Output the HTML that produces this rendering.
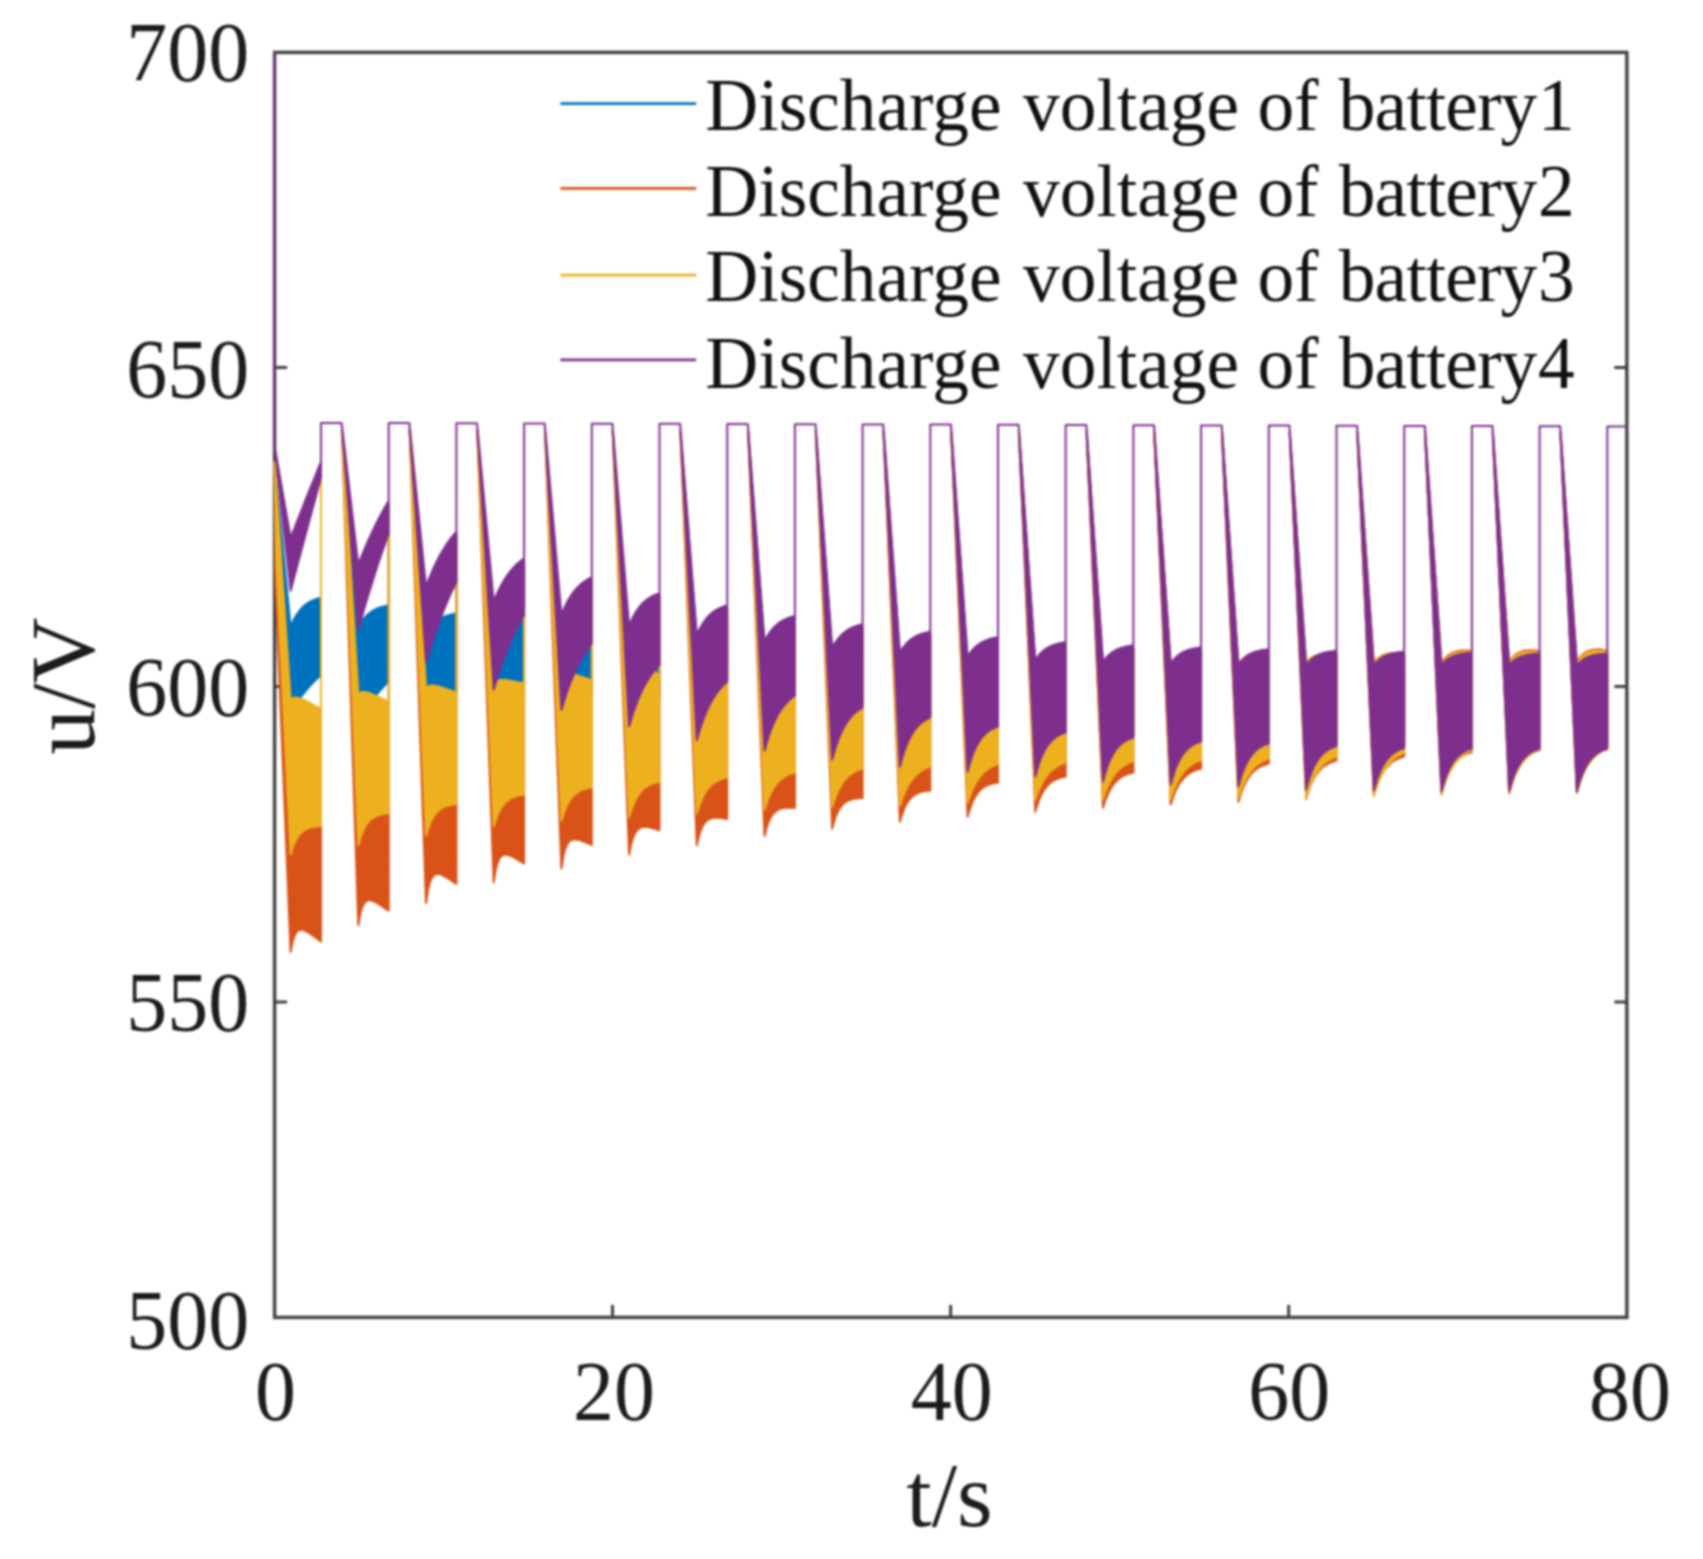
<!DOCTYPE html>
<html lang="en">
<head>
<meta charset="utf-8">
<title>Discharge voltage of batteries</title>
<style>
html,body{margin:0;padding:0;background:#fff;}
body{width:1703px;height:1559px;overflow:hidden;}
svg{display:block;filter:blur(0.8px);}
svg text{font-family:"Liberation Serif","Times New Roman",serif;}
</style>
</head>
<body>
<svg width="1703" height="1559" viewBox="0 0 1703 1559">
<rect width="1703" height="1559" fill="#fff"/>
<g fill="none" stroke="#404040" stroke-width="3.4" stroke-linecap="butt">
<rect x="274.60" y="52.40" width="1352.25" height="1265.00"/>
<path d="M274.60 367.50h12.5M1626.85 367.50h-12.5" stroke-width="3"/>
<path d="M274.60 686.40h12.5M1626.85 686.40h-12.5" stroke-width="3"/>
<path d="M274.60 1001.90h12.5M1626.85 1001.90h-12.5" stroke-width="3"/>
<path d="M612.50 1317.40v-12.5" stroke-width="3"/>
<path d="M950.60 1317.40v-12.5" stroke-width="3"/>
<path d="M1288.70 1317.40v-12.5" stroke-width="3"/>
</g>
<g stroke-width="2.0" stroke-linejoin="round">
<path d="M274.6 462.0L290.6 627.0L292.5 622.5L294.4 618.6L296.3 615.3L298.2 612.5L300.1 610.0L302.0 607.9L303.9 606.1L305.8 604.5L307.7 603.1L309.6 602.0L311.5 601.0L313.4 600.1L315.3 599.4L317.2 598.7L319.1 598.2L321.0 597.7L321.0 464.8L321.0 597.7L321.0 675.0L319.1 676.7L317.2 678.5L315.3 680.4L313.4 682.3L311.5 684.3L309.6 686.4L307.7 688.5L305.8 690.7L303.9 693.1L302.0 695.5L300.1 698.0L298.2 700.6L296.3 703.3L294.4 706.1L292.5 709.0L290.6 712.0L276.6 545.0ZM341.9 429.9L358.3 627.0L360.2 623.7L362.1 620.8L364.0 618.4L365.9 616.3L367.8 614.5L369.7 612.9L371.6 611.6L373.5 610.4L375.4 609.4L377.3 608.5L379.2 607.8L381.1 607.2L383.0 606.6L384.9 606.2L386.8 605.7L388.7 605.4L388.7 503.9L388.7 605.4L388.7 681.6L386.8 683.4L384.9 685.3L383.0 687.3L381.1 689.4L379.2 691.5L377.3 693.7L375.4 696.0L373.5 698.4L371.6 700.8L369.7 703.4L367.8 706.1L365.9 708.8L364.0 711.7L362.1 714.7L360.2 717.8L358.3 721.0ZM409.6 430.1L426.0 633.0L427.9 630.0L429.8 627.4L431.7 625.2L433.6 623.3L435.5 621.7L437.4 620.3L439.3 619.1L441.2 618.0L443.1 617.1L445.0 616.3L446.9 615.7L448.8 615.1L450.7 614.6L452.6 614.2L454.5 613.8L456.4 613.5L456.4 534.6L456.4 613.5L456.4 695.0L454.5 696.4L452.6 697.8L450.7 699.3L448.8 700.9L446.9 702.5L445.0 704.2L443.1 706.0L441.2 707.8L439.3 709.6L437.4 711.6L435.5 713.6L433.6 715.7L431.7 717.9L429.8 720.2L427.9 722.6L426.0 725.0ZM477.2 430.3L493.7 639.0L495.6 635.6L497.5 632.7L499.4 630.2L501.3 628.1L503.2 626.2L505.1 624.6L507.0 623.3L508.9 622.1L510.8 621.1L512.7 620.2L514.6 619.5L516.5 618.8L518.4 618.2L520.3 617.8L522.2 617.4L524.1 617.0L524.1 561.3L524.1 617.0L524.1 699.0L522.2 700.3L520.3 701.7L518.4 703.1L516.5 704.5L514.6 706.0L512.7 707.6L510.8 709.2L508.9 710.9L507.0 712.7L505.1 714.5L503.2 716.4L501.3 718.4L499.4 720.4L497.5 722.5L495.6 724.7L493.7 727.0ZM545.0 430.5L561.4 645.0L563.3 641.6L565.2 638.7L567.1 636.2L569.0 634.1L570.9 632.2L572.8 630.6L574.7 629.3L576.6 628.1L578.5 627.1L580.4 626.2L582.3 625.5L584.2 624.8L586.1 624.2L588.0 623.8L589.9 623.4L591.8 623.0L591.8 580.2L591.8 623.0L591.8 699.0L589.9 700.3L588.0 701.7L586.1 703.1L584.2 704.5L582.3 706.0L580.4 707.6L578.5 709.2L576.6 710.9L574.7 712.7L572.8 714.5L570.9 716.4L569.0 718.4L567.1 720.4L565.2 722.5L563.3 724.7L561.4 727.0ZM612.7 430.7L629.1 651.0L631.0 647.9L632.9 645.3L634.8 643.0L636.7 641.1L638.6 639.4L640.5 637.9L642.4 636.7L644.3 635.6L646.2 634.7L648.1 633.9L650.0 633.2L651.9 632.6L653.8 632.1L655.7 631.7L657.6 631.3L659.5 631.0L659.5 596.3L659.5 631.0L659.5 699.0L657.6 700.3L655.7 701.7L653.8 703.1L651.9 704.5L650.0 706.0L648.1 707.6L646.2 709.2L644.3 710.9L642.4 712.7L640.5 714.5L638.6 716.4L636.7 718.4L634.8 720.4L632.9 722.5L631.0 724.7L629.1 727.0ZM680.4 430.8L696.8 638.2L698.7 633.9L700.6 630.1L702.5 626.9L704.4 624.0L706.3 621.5L708.2 619.4L710.1 617.5L712.0 615.8L713.9 614.4L715.8 613.2L717.7 612.1L719.6 611.1L721.5 610.3L723.4 609.6L725.3 608.9L727.2 608.4L727.2 608.4L727.2 608.4L727.2 678.8L725.3 680.4L723.4 682.2L721.5 684.2L719.6 686.4L717.7 688.7L715.8 691.4L713.9 694.2L712.0 697.4L710.1 700.9L708.2 704.7L706.3 708.9L704.4 713.6L702.5 718.7L700.6 724.3L698.7 730.4L696.8 737.2ZM748.1 431.0L764.5 644.4L766.4 640.7L768.3 637.5L770.2 634.7L772.1 632.3L774.0 630.2L775.9 628.4L777.8 626.7L779.7 625.3L781.6 624.1L783.5 623.1L785.4 622.1L787.3 621.3L789.2 620.6L791.1 620.0L793.0 619.5L794.9 619.0L794.9 619.0L794.9 619.0L794.9 692.6L793.0 693.9L791.1 695.4L789.2 697.1L787.3 698.9L785.4 701.0L783.5 703.3L781.6 705.9L779.7 708.7L777.8 711.9L775.9 715.5L774.0 719.5L772.1 724.0L770.2 729.0L768.3 734.6L766.4 740.8L764.5 747.8ZM815.8 431.2L832.2 651.0L834.1 647.6L836.0 644.6L837.9 642.0L839.8 639.7L841.7 637.7L843.6 636.0L845.5 634.5L847.4 633.1L849.3 632.0L851.2 631.0L853.1 630.1L855.0 629.4L856.9 628.7L858.8 628.1L860.7 627.6L862.6 627.2L862.6 627.2L862.6 627.2L862.6 704.6L860.7 705.7L858.8 706.9L856.9 708.3L855.0 709.8L853.1 711.6L851.2 713.6L849.3 715.9L847.4 718.5L845.5 721.5L843.6 724.8L841.7 728.6L839.8 732.9L837.9 737.8L836.0 743.3L834.1 749.6L832.2 756.7ZM883.5 431.4L899.9 655.6L901.8 652.5L903.7 649.8L905.6 647.4L907.5 645.4L909.4 643.6L911.3 642.1L913.2 640.8L915.1 639.7L917.0 638.7L918.9 637.8L920.8 637.1L922.7 636.4L924.6 635.9L926.5 635.4L928.4 635.0L930.3 634.6L930.3 634.6L930.3 634.6L930.3 714.5L928.4 715.4L926.5 716.4L924.6 717.5L922.7 718.8L920.8 720.4L918.9 722.1L917.0 724.1L915.1 726.5L913.2 729.2L911.3 732.3L909.4 735.8L907.5 739.9L905.6 744.7L903.7 750.1L901.8 756.4L899.9 763.7ZM951.2 431.6L967.6 659.9L969.5 656.9L971.4 654.3L973.3 652.0L975.2 650.1L977.1 648.5L979.0 647.0L980.9 645.8L982.8 644.8L984.7 643.9L986.6 643.1L988.5 642.4L990.4 641.8L992.3 641.3L994.2 640.9L996.1 640.5L998.0 640.2L998.0 640.2L998.0 640.2L998.0 723.5L996.1 724.2L994.2 725.0L992.3 725.9L990.4 727.0L988.5 728.2L986.6 729.7L984.7 731.5L982.8 733.5L980.9 735.9L979.0 738.7L977.1 741.9L975.2 745.7L973.3 750.2L971.4 755.4L969.5 761.5L967.6 768.7ZM1018.9 431.8L1035.3 663.3L1037.2 660.4L1039.1 658.0L1041.0 655.9L1042.9 654.1L1044.8 652.6L1046.7 651.3L1048.6 650.2L1050.5 649.2L1052.4 648.4L1054.3 647.7L1056.2 647.1L1058.1 646.6L1060.0 646.2L1061.9 645.8L1063.8 645.5L1065.7 645.2L1065.7 645.2L1065.7 645.2L1065.7 729.5L1063.8 730.1L1061.9 730.9L1060.0 731.7L1058.1 732.7L1056.2 733.9L1054.3 735.3L1052.4 737.0L1050.5 738.9L1048.6 741.2L1046.7 743.9L1044.8 747.1L1042.9 750.8L1041.0 755.2L1039.1 760.4L1037.2 766.5L1035.3 773.6ZM1086.6 432.0L1103.0 665.1L1104.9 662.4L1106.8 660.1L1108.7 658.1L1110.6 656.5L1112.5 655.1L1114.4 653.9L1116.3 652.8L1118.2 652.0L1120.1 651.2L1122.0 650.6L1123.9 650.1L1125.8 649.6L1127.7 649.2L1129.6 648.9L1131.5 648.6L1133.4 648.4L1133.4 648.4L1133.4 648.4L1133.4 734.5L1131.5 735.1L1129.6 735.9L1127.7 736.7L1125.8 737.7L1123.9 738.9L1122.0 740.3L1120.1 742.0L1118.2 743.9L1116.3 746.2L1114.4 748.9L1112.5 752.1L1110.6 755.8L1108.7 760.2L1106.8 765.4L1104.9 771.5L1103.0 778.6ZM1154.2 432.2L1170.7 666.8L1172.6 664.1L1174.5 661.8L1176.4 659.8L1178.3 658.2L1180.2 656.8L1182.1 655.6L1184.0 654.6L1185.9 653.8L1187.8 653.1L1189.7 652.5L1191.6 652.0L1193.5 651.5L1195.4 651.2L1197.3 650.9L1199.2 650.6L1201.1 650.4L1201.1 650.4L1201.1 650.4L1201.1 738.5L1199.2 739.1L1197.3 739.8L1195.4 740.7L1193.5 741.7L1191.6 742.8L1189.7 744.2L1187.8 745.8L1185.9 747.7L1184.0 750.0L1182.1 752.6L1180.2 755.7L1178.3 759.3L1176.4 763.6L1174.5 768.7L1172.6 774.6L1170.7 781.6ZM1222.0 432.4L1238.4 667.7L1240.3 665.1L1242.2 662.9L1244.1 661.0L1246.0 659.4L1247.9 658.1L1249.8 657.0L1251.7 656.1L1253.6 655.3L1255.5 654.7L1257.4 654.2L1259.3 653.7L1261.2 653.3L1263.1 653.0L1265.0 652.7L1266.9 652.5L1268.8 652.3L1268.8 652.3L1268.8 652.3L1268.8 740.5L1266.9 741.1L1265.0 741.8L1263.1 742.7L1261.2 743.7L1259.3 744.8L1257.4 746.2L1255.5 747.8L1253.6 749.7L1251.7 752.0L1249.8 754.6L1247.9 757.7L1246.0 761.3L1244.1 765.6L1242.2 770.7L1240.3 776.6L1238.4 783.6ZM1289.7 432.6L1306.1 668.3L1308.0 665.8L1309.9 663.6L1311.8 661.9L1313.7 660.4L1315.6 659.2L1317.5 658.1L1319.4 657.3L1321.3 656.6L1323.2 656.0L1325.1 655.5L1327.0 655.0L1328.9 654.7L1330.8 654.4L1332.7 654.2L1334.6 654.0L1336.5 653.8L1336.5 653.8L1336.5 653.8L1336.5 743.1L1334.6 743.7L1332.7 744.4L1330.8 745.3L1328.9 746.3L1327.0 747.5L1325.1 748.9L1323.2 750.5L1321.3 752.4L1319.4 754.7L1317.5 757.3L1315.6 760.5L1313.7 764.1L1311.8 768.5L1309.9 773.6L1308.0 779.6L1306.1 786.6ZM1357.3 432.8L1373.8 668.3L1375.7 665.9L1377.6 663.9L1379.5 662.2L1381.4 660.8L1383.3 659.7L1385.2 658.7L1387.1 657.9L1389.0 657.3L1390.9 656.7L1392.8 656.3L1394.7 655.9L1396.6 655.6L1398.5 655.3L1400.4 655.1L1402.3 654.9L1404.2 654.8L1404.2 654.8L1404.2 654.8L1404.2 745.1L1402.3 745.7L1400.4 746.4L1398.5 747.2L1396.6 748.2L1394.7 749.4L1392.8 750.7L1390.9 752.3L1389.0 754.2L1387.1 756.4L1385.2 759.0L1383.3 762.1L1381.4 765.7L1379.5 769.9L1377.6 774.9L1375.7 780.7L1373.8 787.6ZM1425.1 432.9L1441.5 668.3L1443.4 666.0L1445.3 664.1L1447.2 662.5L1449.1 661.2L1451.0 660.2L1452.9 659.3L1454.8 658.6L1456.7 658.0L1458.6 657.5L1460.5 657.1L1462.4 656.8L1464.3 656.5L1466.2 656.3L1468.1 656.1L1470.0 655.9L1471.9 655.8L1471.9 655.8L1471.9 655.8L1471.9 745.6L1470.0 746.2L1468.1 746.9L1466.2 747.7L1464.3 748.7L1462.4 749.9L1460.5 751.2L1458.6 752.8L1456.7 754.7L1454.8 756.9L1452.9 759.5L1451.0 762.6L1449.1 766.2L1447.2 770.4L1445.3 775.4L1443.4 781.2L1441.5 788.1ZM1492.8 433.1L1509.2 668.3L1511.1 666.1L1513.0 664.3L1514.9 662.8L1516.8 661.6L1518.7 660.6L1520.6 659.8L1522.5 659.1L1524.4 658.6L1526.3 658.1L1528.2 657.8L1530.1 657.5L1532.0 657.2L1533.9 657.0L1535.8 656.8L1537.7 656.7L1539.6 656.6L1539.6 656.6L1539.6 656.6L1539.6 745.6L1537.7 746.2L1535.8 746.9L1533.9 747.8L1532.0 748.7L1530.1 749.9L1528.2 751.3L1526.3 752.9L1524.4 754.7L1522.5 757.0L1520.6 759.6L1518.7 762.6L1516.8 766.3L1514.9 770.5L1513.0 775.5L1511.1 781.4L1509.2 788.3ZM1560.5 433.3L1576.9 668.6L1578.8 666.3L1580.7 664.5L1582.6 663.0L1584.5 661.7L1586.4 660.7L1588.3 659.9L1590.2 659.2L1592.1 658.6L1594.0 658.2L1595.9 657.8L1597.8 657.5L1599.7 657.2L1601.6 657.0L1603.5 656.9L1605.4 656.7L1607.3 656.6L1607.3 656.6L1607.3 656.6L1607.3 745.6L1605.4 746.2L1603.5 746.9L1601.6 747.8L1599.7 748.8L1597.8 749.9L1595.9 751.3L1594.0 752.9L1592.1 754.8L1590.2 757.0L1588.3 759.7L1586.4 762.8L1584.5 766.4L1582.6 770.7L1580.7 775.7L1578.8 781.6L1576.9 788.6Z" fill="#0072bd" stroke="#0072bd"/>
<path d="M274.6 462.0L290.6 702.0L292.5 700.4L294.4 699.7L296.3 699.6L298.2 699.9L300.1 700.4L302.0 701.1L303.9 702.0L305.8 702.9L307.7 703.8L309.6 704.8L311.5 705.8L313.4 706.9L315.3 707.9L317.2 708.9L319.1 710.0L321.0 711.0L321.0 464.8L321.0 711.0L321.0 941.5L319.1 940.1L317.2 938.7L315.3 937.3L313.4 935.9L311.5 934.6L309.6 933.4L307.7 932.2L305.8 931.2L303.9 930.3L302.0 929.8L300.1 929.8L298.2 930.5L296.3 932.4L294.4 935.9L292.5 942.0L290.6 952.0L275.5 585.0ZM341.9 429.9L358.3 695.8L360.2 694.6L362.1 694.0L364.0 694.0L365.9 694.2L367.8 694.7L369.7 695.3L371.6 696.0L373.5 696.8L375.4 697.6L377.3 698.4L379.2 699.2L381.1 700.1L383.0 700.9L384.9 701.8L386.8 702.6L388.7 703.5L388.7 503.9L388.7 703.5L388.7 910.7L386.8 909.4L384.9 908.1L383.0 906.8L381.1 905.5L379.2 904.3L377.3 903.1L375.4 902.1L373.5 901.2L371.6 900.5L369.7 900.2L367.8 900.3L365.9 901.3L364.0 903.5L362.1 907.4L360.2 914.1L358.3 925.0ZM409.6 430.1L426.0 690.5L427.9 688.8L429.8 687.9L431.7 687.6L433.6 687.6L435.5 687.9L437.4 688.3L439.3 688.8L441.2 689.3L443.1 690.0L445.0 690.6L446.9 691.3L448.8 691.9L450.7 692.6L452.6 693.3L454.5 694.0L456.4 694.7L456.4 534.6L456.4 694.7L456.4 884.0L454.5 882.7L452.6 881.4L450.7 880.1L448.8 878.8L446.9 877.6L445.0 876.5L443.1 875.5L441.2 874.6L439.3 874.0L437.4 873.8L435.5 874.2L433.6 875.5L431.7 878.1L429.8 882.8L427.9 890.5L426.0 903.0ZM477.2 430.3L493.7 685.5L495.6 683.8L497.5 682.8L499.4 682.2L501.3 682.0L503.2 682.0L505.1 682.1L507.0 682.3L508.9 682.6L510.8 682.9L512.7 683.3L514.6 683.6L516.5 684.0L518.4 684.4L520.3 684.7L522.2 685.1L524.1 685.5L524.1 561.3L524.1 685.5L524.1 863.6L522.2 862.4L520.3 861.2L518.4 860.1L516.5 858.9L514.6 857.8L512.7 856.8L510.8 855.9L508.9 855.2L507.0 854.7L505.1 854.5L503.2 854.9L501.3 856.2L499.4 858.7L497.5 863.2L495.6 870.6L493.7 882.4ZM545.0 430.5L561.4 679.0L563.3 677.1L565.2 676.2L567.1 675.7L569.0 675.7L570.9 675.9L572.8 676.2L574.7 676.7L576.6 677.2L578.5 677.8L580.4 678.4L582.3 679.0L584.2 679.7L586.1 680.3L588.0 681.0L589.9 681.6L591.8 682.3L591.8 580.2L591.8 682.3L591.8 845.1L589.9 844.2L588.0 843.4L586.1 842.6L584.2 841.8L582.3 841.1L580.4 840.4L578.5 839.8L576.6 839.4L574.7 839.2L572.8 839.4L570.9 840.1L569.0 841.6L567.1 844.4L565.2 849.1L563.3 856.6L561.4 868.5ZM612.7 430.7L629.1 675.0L631.0 672.5L632.9 670.7L634.8 669.3L636.7 668.4L638.6 667.9L640.5 667.7L642.4 667.9L644.3 668.3L646.2 668.9L648.1 669.7L650.0 670.7L651.9 671.9L653.8 673.2L655.7 674.6L657.6 676.1L659.5 677.7L659.5 596.3L659.5 677.7L659.5 830.2L657.6 829.6L655.7 829.0L653.8 828.5L651.9 827.9L650.0 827.5L648.1 827.1L646.2 826.9L644.3 826.9L642.4 827.1L640.5 827.6L638.6 828.8L636.7 830.6L634.8 833.6L632.9 838.1L631.0 844.8L629.1 854.7ZM680.4 430.8L696.8 672.0L698.7 669.7L700.6 667.9L702.5 666.6L704.4 665.8L706.3 665.3L708.2 665.1L710.1 665.2L712.0 665.5L713.9 666.1L715.8 666.8L717.7 667.7L719.6 668.8L721.5 669.9L723.4 671.2L725.3 672.6L727.2 674.0L727.2 608.4L727.2 674.0L727.2 819.1L725.3 818.7L723.4 818.4L721.5 818.1L719.6 817.9L717.7 817.8L715.8 817.7L713.9 817.8L712.0 818.1L710.1 818.7L708.2 819.6L706.3 821.1L704.4 823.2L702.5 826.3L700.6 830.7L698.7 836.8L696.8 845.4ZM748.1 431.0L764.5 670.0L766.4 668.0L768.3 666.4L770.2 665.3L772.1 664.5L774.0 664.0L775.9 663.9L777.8 663.9L779.7 664.1L781.6 664.6L783.5 665.2L785.4 665.9L787.3 666.7L789.2 667.7L791.1 668.7L793.0 669.8L794.9 671.0L794.9 619.0L794.9 671.0L794.9 807.9L793.0 807.8L791.1 807.7L789.2 807.6L787.3 807.7L785.4 807.8L783.5 808.0L781.6 808.4L779.7 809.0L777.8 809.9L775.9 811.2L774.0 812.9L772.1 815.2L770.2 818.4L768.3 822.7L766.4 828.4L764.5 836.1ZM815.8 431.2L832.2 668.5L834.1 666.5L836.0 665.0L837.9 663.9L839.8 663.1L841.7 662.6L843.6 662.4L845.5 662.4L847.4 662.5L849.3 662.9L851.2 663.4L853.1 664.0L855.0 664.7L856.9 665.6L858.8 666.5L860.7 667.4L862.6 668.5L862.6 627.2L862.6 668.5L862.6 798.1L860.7 798.1L858.8 798.2L856.9 798.4L855.0 798.6L853.1 799.0L851.2 799.5L849.3 800.1L847.4 801.0L845.5 802.1L843.6 803.7L841.7 805.6L839.8 808.2L837.9 811.6L836.0 815.9L834.1 821.5L832.2 828.7ZM883.5 431.4L899.9 667.5L901.8 665.6L903.7 664.2L905.6 663.1L907.5 662.3L909.4 661.8L911.3 661.5L913.2 661.4L915.1 661.6L917.0 661.8L918.9 662.2L920.8 662.7L922.7 663.3L924.6 664.0L926.5 664.8L928.4 665.6L930.3 666.5L930.3 634.6L930.3 666.5L930.3 790.5L928.4 790.7L926.5 790.9L924.6 791.2L922.7 791.5L920.8 792.0L918.9 792.7L917.0 793.5L915.1 794.5L913.2 795.8L911.3 797.5L909.4 799.6L907.5 802.2L905.6 805.6L903.7 809.8L901.8 815.1L899.9 821.8ZM951.2 431.6L967.6 667.0L969.5 665.1L971.4 663.5L973.3 662.4L975.2 661.5L977.1 660.9L979.0 660.6L980.9 660.4L982.8 660.5L984.7 660.6L986.6 660.9L988.5 661.3L990.4 661.8L992.3 662.4L994.2 663.0L996.1 663.7L998.0 664.5L998.0 640.2L998.0 664.5L998.0 782.5L996.1 782.8L994.2 783.2L992.3 783.6L990.4 784.2L988.5 784.8L986.6 785.7L984.7 786.7L982.8 787.9L980.9 789.5L979.0 791.4L977.1 793.8L975.2 796.7L973.3 800.3L971.4 804.7L969.5 810.1L967.6 816.8ZM1018.9 431.8L1035.3 666.5L1037.2 664.6L1039.1 663.0L1041.0 661.9L1042.9 661.0L1044.8 660.4L1046.7 660.0L1048.6 659.8L1050.5 659.7L1052.4 659.8L1054.3 660.0L1056.2 660.4L1058.1 660.8L1060.0 661.2L1061.9 661.8L1063.8 662.4L1065.7 663.0L1065.7 645.2L1065.7 663.0L1065.7 776.5L1063.8 776.9L1061.9 777.3L1060.0 777.8L1058.1 778.5L1056.2 779.3L1054.3 780.2L1052.4 781.3L1050.5 782.7L1048.6 784.4L1046.7 786.5L1044.8 788.9L1042.9 791.9L1041.0 795.6L1039.1 800.0L1037.2 805.3L1035.3 811.8ZM1086.6 432.0L1103.0 666.0L1104.9 664.1L1106.8 662.5L1108.7 661.3L1110.6 660.4L1112.5 659.8L1114.4 659.3L1116.3 659.1L1118.2 659.0L1120.1 659.0L1122.0 659.1L1123.9 659.4L1125.8 659.7L1127.7 660.1L1129.6 660.5L1131.5 661.0L1133.4 661.5L1133.4 648.4L1133.4 661.5L1133.4 772.6L1131.5 773.0L1129.6 773.5L1127.7 774.1L1125.8 774.8L1123.9 775.7L1122.0 776.7L1120.1 777.9L1118.2 779.4L1116.3 781.2L1114.4 783.2L1112.5 785.7L1110.6 788.7L1108.7 792.3L1106.8 796.6L1104.9 801.7L1103.0 807.8ZM1154.2 432.2L1170.7 665.5L1172.6 663.5L1174.5 661.8L1176.4 660.6L1178.3 659.6L1180.2 658.9L1182.1 658.4L1184.0 658.1L1185.9 657.9L1187.8 657.9L1189.7 658.0L1191.6 658.2L1193.5 658.4L1195.4 658.7L1197.3 659.1L1199.2 659.5L1201.1 660.0L1201.1 650.4L1201.1 660.0L1201.1 768.6L1199.2 769.1L1197.3 769.6L1195.4 770.3L1193.5 771.1L1191.6 772.0L1189.7 773.1L1187.8 774.4L1185.9 776.0L1184.0 777.8L1182.1 780.0L1180.2 782.5L1178.3 785.6L1176.4 789.1L1174.5 793.4L1172.6 798.4L1170.7 804.4ZM1222.0 432.4L1238.4 665.0L1240.3 662.9L1242.2 661.3L1244.1 660.0L1246.0 659.0L1247.9 658.2L1249.8 657.7L1251.7 657.3L1253.6 657.1L1255.5 657.0L1257.4 657.0L1259.3 657.1L1261.2 657.3L1263.1 657.5L1265.0 657.8L1266.9 658.1L1268.8 658.5L1268.8 652.3L1268.8 658.5L1268.8 763.6L1266.9 764.1L1265.0 764.7L1263.1 765.4L1261.2 766.2L1259.3 767.2L1257.4 768.4L1255.5 769.8L1253.6 771.5L1251.7 773.4L1249.8 775.7L1247.9 778.5L1246.0 781.7L1244.1 785.5L1242.2 790.1L1240.3 795.4L1238.4 801.8ZM1289.7 432.6L1306.1 664.5L1308.0 662.4L1309.9 660.7L1311.8 659.4L1313.7 658.3L1315.6 657.5L1317.5 657.0L1319.4 656.5L1321.3 656.3L1323.2 656.1L1325.1 656.0L1327.0 656.1L1328.9 656.1L1330.8 656.3L1332.7 656.5L1334.6 656.7L1336.5 657.0L1336.5 653.8L1336.5 657.0L1336.5 760.6L1334.6 761.1L1332.7 761.7L1330.8 762.4L1328.9 763.3L1327.0 764.3L1325.1 765.4L1323.2 766.8L1321.3 768.5L1319.4 770.5L1317.5 772.8L1315.6 775.5L1313.7 778.8L1311.8 782.6L1309.9 787.2L1308.0 792.6L1306.1 799.0ZM1357.3 432.8L1373.8 664.0L1375.7 661.9L1377.6 660.2L1379.5 658.8L1381.4 657.8L1383.3 656.9L1385.2 656.3L1387.1 655.8L1389.0 655.5L1390.9 655.2L1392.8 655.1L1394.7 655.0L1396.6 655.0L1398.5 655.1L1400.4 655.2L1402.3 655.3L1404.2 655.5L1404.2 654.8L1404.2 655.5L1404.2 756.6L1402.3 757.1L1400.4 757.7L1398.5 758.5L1396.6 759.3L1394.7 760.3L1392.8 761.5L1390.9 763.0L1389.0 764.7L1387.1 766.7L1385.2 769.0L1383.3 771.8L1381.4 775.2L1379.5 779.1L1377.6 783.8L1375.7 789.3L1373.8 795.8ZM1425.1 432.9L1441.5 663.5L1443.4 660.2L1445.3 657.9L1447.2 656.1L1449.1 654.7L1451.0 653.6L1452.9 652.7L1454.8 652.0L1456.7 651.4L1458.6 651.0L1460.5 650.7L1462.4 650.5L1464.3 650.5L1466.2 650.4L1468.1 650.5L1470.0 650.7L1471.9 651.0L1471.9 651.0L1471.9 651.0L1471.9 752.2L1470.0 752.8L1468.1 753.4L1466.2 754.2L1464.3 755.1L1462.4 756.2L1460.5 757.5L1458.6 759.1L1456.7 760.9L1454.8 763.1L1452.9 765.6L1451.0 768.6L1449.1 772.2L1447.2 776.5L1445.3 781.5L1443.4 787.5L1441.5 794.5ZM1492.8 433.1L1509.2 663.2L1511.1 659.4L1513.0 657.1L1514.9 655.3L1516.8 653.8L1518.7 652.7L1520.6 651.9L1522.5 651.2L1524.4 650.8L1526.3 650.4L1528.2 650.3L1530.1 650.2L1532.0 650.2L1533.9 650.4L1535.8 650.6L1537.7 650.9L1539.6 651.5L1539.6 651.5L1539.6 651.5L1539.6 750.2L1537.7 750.8L1535.8 751.5L1533.9 752.3L1532.0 753.2L1530.1 754.3L1528.2 755.7L1526.3 757.2L1524.4 759.1L1522.5 761.3L1520.6 763.9L1518.7 767.0L1516.8 770.7L1514.9 775.0L1513.0 780.2L1511.1 786.3L1509.2 793.5ZM1560.5 433.3L1576.9 663.4L1578.8 659.1L1580.7 656.6L1582.6 654.7L1584.5 653.2L1586.4 652.0L1588.3 651.1L1590.2 650.5L1592.1 650.0L1594.0 649.7L1595.9 649.5L1597.8 649.5L1599.7 649.6L1601.6 649.8L1603.5 650.1L1605.4 650.6L1607.3 651.4L1607.3 651.4L1607.3 651.4L1607.3 749.2L1605.4 749.8L1603.5 750.5L1601.6 751.3L1599.7 752.2L1597.8 753.4L1595.9 754.7L1594.0 756.3L1592.1 758.2L1590.2 760.4L1588.3 763.1L1586.4 766.2L1584.5 769.9L1582.6 774.3L1580.7 779.5L1578.8 785.7L1576.9 793.0Z" fill="#d95319" stroke="#d95319"/>
<path d="M274.6 462.0L290.6 700.0L292.5 698.4L294.4 697.7L296.3 697.6L298.2 697.9L300.1 698.4L302.0 699.1L303.9 700.0L305.8 700.9L307.7 701.8L309.6 702.8L311.5 703.8L313.4 704.9L315.3 705.9L317.2 706.9L319.1 708.0L321.0 709.0L321.0 464.8L321.0 709.0L321.0 826.0L319.1 826.2L317.2 826.3L315.3 826.6L313.4 826.9L311.5 827.3L309.6 827.8L307.7 828.5L305.8 829.4L303.9 830.5L302.0 831.9L300.1 833.8L298.2 836.1L296.3 839.1L294.4 843.0L292.5 848.0L290.6 854.4L276.2 565.0ZM341.9 429.9L358.3 693.8L360.2 692.6L362.1 692.0L364.0 692.0L365.9 692.2L367.8 692.7L369.7 693.3L371.6 694.0L373.5 694.8L375.4 695.6L377.3 696.4L379.2 697.2L381.1 698.1L383.0 698.9L384.9 699.8L386.8 700.6L388.7 701.5L388.7 503.9L388.7 701.5L388.7 813.2L386.8 813.4L384.9 813.6L383.0 814.0L381.1 814.4L379.2 814.9L377.3 815.5L375.4 816.3L373.5 817.4L371.6 818.7L369.7 820.4L367.8 822.5L365.9 825.2L364.0 828.6L362.1 833.0L360.2 838.5L358.3 845.5ZM409.6 430.1L426.0 688.5L427.9 686.8L429.8 685.9L431.7 685.6L433.6 685.6L435.5 685.9L437.4 686.3L439.3 686.8L441.2 687.3L443.1 688.0L445.0 688.6L446.9 689.3L448.8 689.9L450.7 690.6L452.6 691.3L454.5 692.0L456.4 692.7L456.4 534.6L456.4 692.7L456.4 804.0L454.5 804.2L452.6 804.5L450.7 804.9L448.8 805.3L446.9 805.8L445.0 806.5L443.1 807.4L441.2 808.5L439.3 809.8L437.4 811.5L435.5 813.7L433.6 816.3L431.7 819.7L429.8 823.9L427.9 829.2L426.0 835.8ZM477.2 430.3L493.7 683.5L495.6 681.8L497.5 680.8L499.4 680.2L501.3 680.0L503.2 680.0L505.1 680.1L507.0 680.3L508.9 680.6L510.8 680.9L512.7 681.3L514.6 681.6L516.5 682.0L518.4 682.4L520.3 682.7L522.2 683.1L524.1 683.5L524.1 561.3L524.1 683.5L524.1 794.6L522.2 794.9L520.3 795.2L518.4 795.6L516.5 796.0L514.6 796.7L512.7 797.4L510.8 798.3L508.9 799.5L507.0 800.9L505.1 802.6L503.2 804.8L501.3 807.5L499.4 810.9L497.5 815.0L495.6 820.1L493.7 826.5ZM545.0 430.5L561.4 677.0L563.3 675.1L565.2 674.2L567.1 673.7L569.0 673.7L570.9 673.9L572.8 674.2L574.7 674.7L576.6 675.2L578.5 675.8L580.4 676.4L582.3 677.0L584.2 677.7L586.1 678.3L588.0 679.0L589.9 679.6L591.8 680.3L591.8 580.2L591.8 680.3L591.8 787.4L589.9 787.7L588.0 788.1L586.1 788.5L584.2 789.1L582.3 789.8L580.4 790.6L578.5 791.7L576.6 792.9L574.7 794.5L572.8 796.4L570.9 798.7L569.0 801.5L567.1 805.0L565.2 809.2L563.3 814.4L561.4 820.8ZM612.7 430.7L629.1 673.0L631.0 670.5L632.9 668.7L634.8 667.3L636.7 666.4L638.6 665.9L640.5 665.7L642.4 665.9L644.3 666.3L646.2 666.9L648.1 667.7L650.0 668.7L651.9 669.9L653.8 671.2L655.7 672.6L657.6 674.1L659.5 675.7L659.5 596.3L659.5 675.7L659.5 781.8L657.6 782.2L655.7 782.6L653.8 783.2L651.9 783.8L650.0 784.6L648.1 785.6L646.2 786.7L644.3 788.1L642.4 789.8L640.5 791.9L638.6 794.4L636.7 797.4L634.8 801.1L632.9 805.5L631.0 810.8L629.1 817.3ZM680.4 430.8L696.8 670.0L698.7 667.7L700.6 665.9L702.5 664.6L704.4 663.8L706.3 663.3L708.2 663.1L710.1 663.2L712.0 663.5L713.9 664.1L715.8 664.8L717.7 665.7L719.6 666.8L721.5 667.9L723.4 669.2L725.3 670.6L727.2 672.0L727.2 608.4L727.2 672.0L727.2 777.3L725.3 777.7L723.4 778.2L721.5 778.9L719.6 779.6L717.7 780.5L715.8 781.5L713.9 782.8L712.0 784.3L710.1 786.1L708.2 788.3L706.3 790.8L704.4 793.9L702.5 797.6L700.6 802.0L698.7 807.3L696.8 813.6ZM748.1 431.0L764.5 668.0L766.4 666.0L768.3 664.4L770.2 663.3L772.1 662.5L774.0 662.0L775.9 661.9L777.8 661.9L779.7 662.1L781.6 662.6L783.5 663.2L785.4 663.9L787.3 664.7L789.2 665.7L791.1 666.7L793.0 667.8L794.9 669.0L794.9 619.0L794.9 669.0L794.9 772.5L793.0 773.0L791.1 773.6L789.2 774.3L787.3 775.1L785.4 776.1L783.5 777.3L781.6 778.6L779.7 780.3L777.8 782.2L775.9 784.4L774.0 787.1L772.1 790.3L770.2 794.0L768.3 798.4L766.4 803.6L764.5 809.8ZM815.8 431.2L832.2 666.5L834.1 664.5L836.0 663.0L837.9 661.9L839.8 661.1L841.7 660.6L843.6 660.4L845.5 660.4L847.4 660.5L849.3 660.9L851.2 661.4L853.1 662.0L855.0 662.7L856.9 663.6L858.8 664.5L860.7 665.4L862.6 666.5L862.6 627.2L862.6 666.5L862.6 768.5L860.7 769.1L858.8 769.8L856.9 770.6L855.0 771.5L853.1 772.6L851.2 773.8L849.3 775.3L847.4 777.1L845.5 779.1L843.6 781.4L841.7 784.2L839.8 787.4L837.9 791.1L836.0 795.5L834.1 800.6L832.2 806.6ZM883.5 431.4L899.9 665.5L901.8 663.6L903.7 662.2L905.6 661.1L907.5 660.3L909.4 659.8L911.3 659.5L913.2 659.4L915.1 659.6L917.0 659.8L918.9 660.2L920.8 660.7L922.7 661.3L924.6 662.0L926.5 662.8L928.4 663.6L930.3 664.5L930.3 634.6L930.3 664.5L930.3 766.5L928.4 767.2L926.5 768.0L924.6 768.8L922.7 769.9L920.8 771.1L918.9 772.5L917.0 774.1L915.1 775.9L913.2 778.0L911.3 780.5L909.4 783.3L907.5 786.6L905.6 790.4L903.7 794.7L901.8 799.8L899.9 805.6ZM951.2 431.6L967.6 665.0L969.5 663.1L971.4 661.5L973.3 660.4L975.2 659.5L977.1 658.9L979.0 658.6L980.9 658.4L982.8 658.5L984.7 658.6L986.6 658.9L988.5 659.3L990.4 659.8L992.3 660.4L994.2 661.0L996.1 661.7L998.0 662.5L998.0 640.2L998.0 662.5L998.0 764.1L996.1 764.8L994.2 765.5L992.3 766.4L990.4 767.4L988.5 768.6L986.6 770.0L984.7 771.5L982.8 773.4L980.9 775.5L979.0 777.9L977.1 780.7L975.2 783.9L973.3 787.6L971.4 791.9L969.5 796.9L967.6 802.6ZM1018.9 431.8L1035.3 664.5L1037.2 662.6L1039.1 661.0L1041.0 659.9L1042.9 659.0L1044.8 658.4L1046.7 658.0L1048.6 657.8L1050.5 657.7L1052.4 657.8L1054.3 658.0L1056.2 658.4L1058.1 658.8L1060.0 659.2L1061.9 659.8L1063.8 660.4L1065.7 661.0L1065.7 645.2L1065.7 661.0L1065.7 762.5L1063.8 763.1L1061.9 763.9L1060.0 764.7L1058.1 765.7L1056.2 766.8L1054.3 768.2L1052.4 769.7L1050.5 771.4L1048.6 773.4L1046.7 775.8L1044.8 778.5L1042.9 781.6L1041.0 785.2L1039.1 789.3L1037.2 794.1L1035.3 799.6ZM1086.6 432.0L1103.0 664.0L1104.9 662.1L1106.8 660.5L1108.7 659.3L1110.6 658.4L1112.5 657.8L1114.4 657.3L1116.3 657.1L1118.2 657.0L1120.1 657.0L1122.0 657.1L1123.9 657.4L1125.8 657.7L1127.7 658.1L1129.6 658.5L1131.5 659.0L1133.4 659.5L1133.4 648.4L1133.4 659.5L1133.4 761.0L1131.5 761.7L1129.6 762.4L1127.7 763.3L1125.8 764.3L1123.9 765.5L1122.0 766.8L1120.1 768.4L1118.2 770.2L1116.3 772.2L1114.4 774.6L1112.5 777.4L1110.6 780.6L1108.7 784.3L1106.8 788.5L1104.9 793.4L1103.0 799.1ZM1154.2 432.2L1170.7 663.5L1172.6 661.5L1174.5 659.8L1176.4 658.6L1178.3 657.6L1180.2 656.9L1182.1 656.4L1184.0 656.1L1185.9 655.9L1187.8 655.9L1189.7 656.0L1191.6 656.2L1193.5 656.4L1195.4 656.7L1197.3 657.1L1199.2 657.5L1201.1 658.0L1201.1 650.4L1201.1 658.0L1201.1 760.1L1199.2 760.8L1197.3 761.5L1195.4 762.4L1193.5 763.4L1191.6 764.6L1189.7 766.0L1187.8 767.5L1185.9 769.4L1184.0 771.5L1182.1 773.9L1180.2 776.7L1178.3 779.9L1176.4 783.6L1174.5 787.9L1172.6 792.9L1170.7 798.6ZM1222.0 432.4L1238.4 663.0L1240.3 660.9L1242.2 659.3L1244.1 658.0L1246.0 657.0L1247.9 656.2L1249.8 655.7L1251.7 655.3L1253.6 655.1L1255.5 655.0L1257.4 655.0L1259.3 655.1L1261.2 655.3L1263.1 655.5L1265.0 655.8L1266.9 656.1L1268.8 656.5L1268.8 652.3L1268.8 656.5L1268.8 758.6L1266.9 759.3L1265.0 760.0L1263.1 760.9L1261.2 762.0L1259.3 763.2L1257.4 764.5L1255.5 766.1L1253.6 768.0L1251.7 770.1L1249.8 772.6L1247.9 775.4L1246.0 778.6L1244.1 782.4L1242.2 786.8L1240.3 791.8L1238.4 797.6ZM1289.7 432.6L1306.1 662.5L1308.0 660.4L1309.9 658.7L1311.8 657.4L1313.7 656.3L1315.6 655.5L1317.5 655.0L1319.4 654.5L1321.3 654.3L1323.2 654.1L1325.1 654.0L1327.0 654.1L1328.9 654.1L1330.8 654.3L1332.7 654.5L1334.6 654.7L1336.5 655.0L1336.5 653.8L1336.5 655.0L1336.5 756.5L1334.6 757.2L1332.7 758.0L1330.8 759.0L1328.9 760.1L1327.0 761.3L1325.1 762.8L1323.2 764.4L1321.3 766.4L1319.4 768.6L1317.5 771.2L1315.6 774.2L1313.7 777.6L1311.8 781.6L1309.9 786.2L1308.0 791.5L1306.1 797.6ZM1357.3 432.8L1373.8 662.0L1375.7 659.9L1377.6 658.2L1379.5 656.8L1381.4 655.8L1383.3 654.9L1385.2 654.3L1387.1 653.8L1389.0 653.5L1390.9 653.2L1392.8 653.1L1394.7 653.0L1396.6 653.0L1398.5 653.1L1400.4 653.2L1402.3 653.3L1404.2 653.5L1404.2 653.5L1404.2 653.5L1404.2 752.9L1402.3 753.6L1400.4 754.5L1398.5 755.5L1396.6 756.6L1394.7 757.9L1392.8 759.4L1390.9 761.2L1389.0 763.2L1387.1 765.5L1385.2 768.2L1383.3 771.3L1381.4 774.8L1379.5 779.0L1377.6 783.7L1375.7 789.2L1373.8 795.6ZM1425.1 432.9L1441.5 664.8L1443.4 661.5L1445.3 659.2L1447.2 657.4L1449.1 656.0L1451.0 654.9L1452.9 654.0L1454.8 653.3L1456.7 652.7L1458.6 652.3L1460.5 652.0L1462.4 651.8L1464.3 651.8L1466.2 651.7L1468.1 651.8L1470.0 652.0L1471.9 652.3L1471.9 652.3L1471.9 652.3L1471.9 750.6L1470.0 751.4L1468.1 752.2L1466.2 753.2L1464.3 754.4L1462.4 755.7L1460.5 757.3L1458.6 759.1L1456.7 761.1L1454.8 763.5L1452.9 766.2L1451.0 769.4L1449.1 773.1L1447.2 777.3L1445.3 782.2L1443.4 787.8L1441.5 794.3ZM1492.8 433.1L1509.2 664.5L1511.1 660.7L1513.0 658.4L1514.9 656.6L1516.8 655.1L1518.7 654.0L1520.6 653.2L1522.5 652.5L1524.4 652.1L1526.3 651.7L1528.2 651.6L1530.1 651.5L1532.0 651.5L1533.9 651.7L1535.8 651.9L1537.7 652.2L1539.6 652.8L1539.6 652.8L1539.6 652.8L1539.6 749.6L1537.7 750.4L1535.8 751.2L1533.9 752.2L1532.0 753.4L1530.1 754.7L1528.2 756.3L1526.3 758.1L1524.4 760.1L1522.5 762.5L1520.6 765.2L1518.7 768.4L1516.8 772.1L1514.9 776.3L1513.0 781.2L1511.1 786.8L1509.2 793.3ZM1560.5 433.3L1576.9 664.7L1578.8 660.4L1580.7 657.9L1582.6 656.0L1584.5 654.5L1586.4 653.3L1588.3 652.4L1590.2 651.8L1592.1 651.3L1594.0 651.0L1595.9 650.8L1597.8 650.8L1599.7 650.9L1601.6 651.1L1603.5 651.4L1605.4 651.9L1607.3 652.7L1607.3 652.7L1607.3 652.7L1607.3 749.1L1605.4 749.9L1603.5 750.7L1601.6 751.7L1599.7 752.9L1597.8 754.2L1595.9 755.8L1594.0 757.6L1592.1 759.6L1590.2 762.0L1588.3 764.7L1586.4 767.9L1584.5 771.6L1582.6 775.8L1580.7 780.7L1578.8 786.3L1576.9 792.8Z" fill="#edb120" stroke="#edb120"/>
<path d="M274.6 52.4L274.6 446.0L290.6 538.0L292.5 533.1L294.4 528.3L296.3 523.4L298.2 518.6L300.1 513.8L302.0 509.0L303.9 504.2L305.8 499.4L307.7 494.7L309.6 489.9L311.5 485.2L313.4 480.5L315.3 475.8L317.2 471.1L319.1 466.5L321.0 461.8L321.0 422.9L341.6 422.9L358.3 564.8L360.2 559.9L362.1 555.1L364.0 550.4L365.9 545.9L367.8 541.5L369.7 537.3L371.6 533.1L373.5 529.1L375.4 525.2L377.3 521.4L379.2 517.7L381.1 514.2L383.0 510.7L384.9 507.3L386.8 504.1L388.7 500.9L388.7 423.1L409.3 423.1L426.0 586.7L427.9 581.6L429.8 576.9L431.7 572.3L433.6 568.0L435.5 564.0L437.4 560.2L439.3 556.5L441.2 553.1L443.1 549.9L445.0 546.8L446.9 543.9L448.8 541.2L450.7 538.6L452.6 536.1L454.5 533.8L456.4 531.6L456.4 423.3L477.0 423.3L493.7 601.7L495.6 597.0L497.5 592.7L499.4 588.8L501.3 585.1L503.2 581.7L505.1 578.6L507.0 575.8L508.9 573.1L510.8 570.7L512.7 568.5L514.6 566.4L516.5 564.5L518.4 562.8L520.3 561.2L522.2 559.7L524.1 558.3L524.1 423.5L544.7 423.5L561.4 614.8L563.3 610.1L565.2 605.9L567.1 602.1L569.0 598.8L570.9 595.7L572.8 593.0L574.7 590.5L576.6 588.3L578.5 586.4L580.4 584.6L582.3 583.0L584.2 581.6L586.1 580.3L588.0 579.2L589.9 578.1L591.8 577.2L591.8 423.7L612.4 423.7L629.1 626.2L631.0 621.5L632.9 617.4L634.8 613.8L636.7 610.7L638.6 608.0L640.5 605.6L642.4 603.5L644.3 601.7L646.2 600.1L648.1 598.7L650.0 597.5L651.9 596.4L653.8 595.5L655.7 594.6L657.6 593.9L659.5 593.3L659.5 423.8L680.1 423.8L696.8 635.2L698.7 630.9L700.6 627.1L702.5 623.9L704.4 621.0L706.3 618.5L708.2 616.4L710.1 614.5L712.0 612.8L713.9 611.4L715.8 610.2L717.7 609.1L719.6 608.1L721.5 607.3L723.4 606.6L725.3 605.9L727.2 605.4L727.2 424.0L747.8 424.0L764.5 641.4L766.4 637.7L768.3 634.5L770.2 631.7L772.1 629.3L774.0 627.2L775.9 625.4L777.8 623.7L779.7 622.3L781.6 621.1L783.5 620.1L785.4 619.1L787.3 618.3L789.2 617.6L791.1 617.0L793.0 616.5L794.9 616.0L794.9 424.2L815.5 424.2L832.2 648.0L834.1 644.6L836.0 641.6L837.9 639.0L839.8 636.7L841.7 634.7L843.6 633.0L845.5 631.5L847.4 630.1L849.3 629.0L851.2 628.0L853.1 627.1L855.0 626.4L856.9 625.7L858.8 625.1L860.7 624.6L862.6 624.2L862.6 424.4L883.2 424.4L899.9 652.6L901.8 649.5L903.7 646.8L905.6 644.4L907.5 642.4L909.4 640.6L911.3 639.1L913.2 637.8L915.1 636.7L917.0 635.7L918.9 634.8L920.8 634.1L922.7 633.4L924.6 632.9L926.5 632.4L928.4 632.0L930.3 631.6L930.3 424.6L950.9 424.6L967.6 656.9L969.5 653.9L971.4 651.3L973.3 649.0L975.2 647.1L977.1 645.5L979.0 644.0L980.9 642.8L982.8 641.8L984.7 640.9L986.6 640.1L988.5 639.4L990.4 638.8L992.3 638.3L994.2 637.9L996.1 637.5L998.0 637.2L998.0 424.8L1018.6 424.8L1035.3 660.3L1037.2 657.4L1039.1 655.0L1041.0 652.9L1042.9 651.1L1044.8 649.6L1046.7 648.3L1048.6 647.2L1050.5 646.2L1052.4 645.4L1054.3 644.7L1056.2 644.1L1058.1 643.6L1060.0 643.2L1061.9 642.8L1063.8 642.5L1065.7 642.2L1065.7 425.0L1086.3 425.0L1103.0 662.1L1104.9 659.4L1106.8 657.1L1108.7 655.1L1110.6 653.5L1112.5 652.1L1114.4 650.9L1116.3 649.8L1118.2 649.0L1120.1 648.2L1122.0 647.6L1123.9 647.1L1125.8 646.6L1127.7 646.2L1129.6 645.9L1131.5 645.6L1133.4 645.4L1133.4 425.2L1154.0 425.2L1170.7 663.8L1172.6 661.1L1174.5 658.8L1176.4 656.8L1178.3 655.2L1180.2 653.8L1182.1 652.6L1184.0 651.6L1185.9 650.8L1187.8 650.1L1189.7 649.5L1191.6 649.0L1193.5 648.5L1195.4 648.2L1197.3 647.9L1199.2 647.6L1201.1 647.4L1201.1 425.4L1221.7 425.4L1238.4 664.7L1240.3 662.1L1242.2 659.9L1244.1 658.0L1246.0 656.4L1247.9 655.1L1249.8 654.0L1251.7 653.1L1253.6 652.3L1255.5 651.7L1257.4 651.2L1259.3 650.7L1261.2 650.3L1263.1 650.0L1265.0 649.7L1266.9 649.5L1268.8 649.3L1268.8 425.6L1289.4 425.6L1306.1 665.3L1308.0 662.8L1309.9 660.6L1311.8 658.9L1313.7 657.4L1315.6 656.2L1317.5 655.1L1319.4 654.3L1321.3 653.6L1323.2 653.0L1325.1 652.5L1327.0 652.0L1328.9 651.7L1330.8 651.4L1332.7 651.2L1334.6 651.0L1336.5 650.8L1336.5 425.8L1357.1 425.8L1373.8 665.3L1375.7 662.9L1377.6 660.9L1379.5 659.2L1381.4 657.8L1383.3 656.7L1385.2 655.7L1387.1 654.9L1389.0 654.3L1390.9 653.7L1392.8 653.3L1394.7 652.9L1396.6 652.6L1398.5 652.3L1400.4 652.1L1402.3 651.9L1404.2 651.8L1404.2 425.9L1424.8 425.9L1441.5 665.3L1443.4 663.0L1445.3 661.1L1447.2 659.5L1449.1 658.2L1451.0 657.2L1452.9 656.3L1454.8 655.6L1456.7 655.0L1458.6 654.5L1460.5 654.1L1462.4 653.8L1464.3 653.5L1466.2 653.3L1468.1 653.1L1470.0 652.9L1471.9 652.8L1471.9 426.1L1492.5 426.1L1509.2 665.3L1511.1 663.1L1513.0 661.3L1514.9 659.8L1516.8 658.6L1518.7 657.6L1520.6 656.8L1522.5 656.1L1524.4 655.6L1526.3 655.1L1528.2 654.8L1530.1 654.5L1532.0 654.2L1533.9 654.0L1535.8 653.8L1537.7 653.7L1539.6 653.6L1539.6 426.3L1560.2 426.3L1576.9 665.6L1578.8 663.3L1580.7 661.5L1582.6 660.0L1584.5 658.7L1586.4 657.7L1588.3 656.9L1590.2 656.2L1592.1 655.6L1594.0 655.2L1595.9 654.8L1597.8 654.5L1599.7 654.2L1601.6 654.0L1603.5 653.9L1605.4 653.7L1607.3 653.6L1607.3 426.5L1626.8 426.5L1626.8 426.5L1607.3 426.5L1607.3 748.6L1605.4 749.2L1603.5 749.9L1601.6 750.8L1599.7 751.8L1597.8 752.9L1595.9 754.3L1594.0 755.9L1592.1 757.8L1590.2 760.0L1588.3 762.7L1586.4 765.8L1584.5 769.4L1582.6 773.7L1580.7 778.7L1578.8 784.6L1576.9 791.6L1560.2 426.3L1539.6 426.3L1539.6 748.6L1537.7 749.2L1535.8 749.9L1533.9 750.8L1532.0 751.7L1530.1 752.9L1528.2 754.3L1526.3 755.9L1524.4 757.7L1522.5 760.0L1520.6 762.6L1518.7 765.6L1516.8 769.3L1514.9 773.5L1513.0 778.5L1511.1 784.4L1509.2 791.3L1492.5 426.1L1471.9 426.1L1471.9 748.6L1470.0 749.2L1468.1 749.9L1466.2 750.7L1464.3 751.7L1462.4 752.9L1460.5 754.2L1458.6 755.8L1456.7 757.7L1454.8 759.9L1452.9 762.5L1451.0 765.6L1449.1 769.2L1447.2 773.4L1445.3 778.4L1443.4 784.2L1441.5 791.1L1424.8 425.9L1404.2 425.9L1404.2 748.1L1402.3 748.7L1400.4 749.4L1398.5 750.2L1396.6 751.2L1394.7 752.4L1392.8 753.7L1390.9 755.3L1389.0 757.2L1387.1 759.4L1385.2 762.0L1383.3 765.1L1381.4 768.7L1379.5 772.9L1377.6 777.9L1375.7 783.7L1373.8 790.6L1357.1 425.8L1336.5 425.8L1336.5 746.1L1334.6 746.7L1332.7 747.4L1330.8 748.3L1328.9 749.3L1327.0 750.5L1325.1 751.9L1323.2 753.5L1321.3 755.4L1319.4 757.7L1317.5 760.3L1315.6 763.5L1313.7 767.1L1311.8 771.5L1309.9 776.6L1308.0 782.6L1306.1 789.6L1289.4 425.6L1268.8 425.6L1268.8 743.5L1266.9 744.1L1265.0 744.8L1263.1 745.7L1261.2 746.7L1259.3 747.8L1257.4 749.2L1255.5 750.8L1253.6 752.7L1251.7 755.0L1249.8 757.6L1247.9 760.7L1246.0 764.3L1244.1 768.6L1242.2 773.7L1240.3 779.6L1238.4 786.6L1221.7 425.4L1201.1 425.4L1201.1 741.5L1199.2 742.1L1197.3 742.8L1195.4 743.7L1193.5 744.7L1191.6 745.8L1189.7 747.2L1187.8 748.8L1185.9 750.7L1184.0 753.0L1182.1 755.6L1180.2 758.7L1178.3 762.3L1176.4 766.6L1174.5 771.7L1172.6 777.6L1170.7 784.6L1154.0 425.2L1133.4 425.2L1133.4 737.5L1131.5 738.1L1129.6 738.9L1127.7 739.7L1125.8 740.7L1123.9 741.9L1122.0 743.3L1120.1 745.0L1118.2 746.9L1116.3 749.2L1114.4 751.9L1112.5 755.1L1110.6 758.8L1108.7 763.2L1106.8 768.4L1104.9 774.5L1103.0 781.6L1086.3 425.0L1065.7 425.0L1065.7 732.5L1063.8 733.1L1061.9 733.9L1060.0 734.7L1058.1 735.7L1056.2 736.9L1054.3 738.3L1052.4 740.0L1050.5 741.9L1048.6 744.2L1046.7 746.9L1044.8 750.1L1042.9 753.8L1041.0 758.2L1039.1 763.4L1037.2 769.5L1035.3 776.6L1018.6 424.8L998.0 424.8L998.0 726.5L996.1 727.2L994.2 728.0L992.3 728.9L990.4 730.0L988.5 731.2L986.6 732.7L984.7 734.5L982.8 736.5L980.9 738.9L979.0 741.7L977.1 744.9L975.2 748.7L973.3 753.2L971.4 758.4L969.5 764.5L967.6 771.7L950.9 424.6L930.3 424.6L930.3 717.5L928.4 718.4L926.5 719.4L924.6 720.5L922.7 721.8L920.8 723.4L918.9 725.1L917.0 727.1L915.1 729.5L913.2 732.2L911.3 735.3L909.4 738.8L907.5 742.9L905.6 747.7L903.7 753.1L901.8 759.4L899.9 766.7L883.2 424.4L862.6 424.4L862.6 707.6L860.7 708.7L858.8 709.9L856.9 711.3L855.0 712.8L853.1 714.6L851.2 716.6L849.3 718.9L847.4 721.5L845.5 724.5L843.6 727.8L841.7 731.6L839.8 735.9L837.9 740.8L836.0 746.3L834.1 752.6L832.2 759.7L815.5 424.2L794.9 424.2L794.9 695.6L793.0 696.9L791.1 698.4L789.2 700.1L787.3 701.9L785.4 704.0L783.5 706.3L781.6 708.9L779.7 711.7L777.8 714.9L775.9 718.5L774.0 722.5L772.1 727.0L770.2 732.0L768.3 737.6L766.4 743.8L764.5 750.8L747.8 424.0L727.2 424.0L727.2 681.8L725.3 683.4L723.4 685.2L721.5 687.2L719.6 689.4L717.7 691.7L715.8 694.4L713.9 697.2L712.0 700.4L710.1 703.9L708.2 707.7L706.3 711.9L704.4 716.6L702.5 721.7L700.6 727.3L698.7 733.4L696.8 740.2L680.1 423.8L659.5 423.8L659.5 664.8L657.6 666.8L655.7 668.9L653.8 671.3L651.9 673.8L650.0 676.5L648.1 679.5L646.2 682.7L644.3 686.1L642.4 689.9L640.5 693.9L638.6 698.3L636.7 703.1L634.8 708.3L632.9 713.8L631.0 719.9L629.1 726.4L612.4 423.7L591.8 423.7L591.8 643.3L589.9 645.8L588.0 648.4L586.1 651.2L584.2 654.2L582.3 657.4L580.4 660.8L578.5 664.5L576.6 668.3L574.7 672.4L572.8 676.8L570.9 681.5L569.0 686.5L567.1 691.8L565.2 697.5L563.3 703.6L561.4 710.0L544.7 423.5L524.1 423.5L524.1 615.3L522.2 618.5L520.3 621.8L518.4 625.3L516.5 628.9L514.6 632.7L512.7 636.7L510.8 641.0L508.9 645.4L507.0 650.0L505.1 654.9L503.2 660.0L501.3 665.4L499.4 671.0L497.5 676.9L495.6 683.1L493.7 689.6L477.0 423.3L456.4 423.3L456.4 581.9L454.5 585.8L452.6 589.8L450.7 593.9L448.8 598.2L446.9 602.6L445.0 607.2L443.1 611.9L441.2 616.8L439.3 621.9L437.4 627.1L435.5 632.4L433.6 638.0L431.7 643.7L429.8 649.7L427.9 655.8L426.0 662.1L409.3 423.1L388.7 423.1L388.7 533.4L386.8 538.7L384.9 544.1L383.0 549.5L381.1 555.1L379.2 560.8L377.3 566.5L375.4 572.4L373.5 578.4L371.6 584.4L369.7 590.6L367.8 596.8L365.9 603.2L364.0 609.7L362.1 616.3L360.2 623.0L358.3 629.8L341.6 422.9L321.0 422.9L321.0 477.6L319.1 484.6L317.2 491.6L315.3 498.7L313.4 505.7L311.5 512.7L309.6 519.8L307.7 526.8L305.8 533.9L303.9 541.0L302.0 548.1L300.1 555.2L298.2 562.3L296.3 569.4L294.4 576.5L292.5 583.7L290.6 590.8L274.6 446.0L274.6 52.4Z" fill="#7e2f8e" stroke="#7e2f8e"/>
</g>
<g font-family="'Liberation Serif', 'Times New Roman', serif" fill="#111">
<path d="M560.4 103.7H696.2" stroke="#0072bd" stroke-width="2.7" fill="none"/>
<text y="130.2" font-size="73.4"><tspan x="705.3">Discharge </tspan><tspan x="1023.0">voltage </tspan><tspan x="1257.4">of </tspan><tspan x="1338.7" letter-spacing="-0.88">battery</tspan><tspan x="1538.0">1</tspan></text>
<path d="M560.4 188.4H696.2" stroke="#d95319" stroke-width="2.7" fill="none"/>
<text y="216.2" font-size="73.4"><tspan x="705.3">Discharge </tspan><tspan x="1023.0">voltage </tspan><tspan x="1257.4">of </tspan><tspan x="1338.7" letter-spacing="-0.88">battery</tspan><tspan x="1538.0">2</tspan></text>
<path d="M560.4 275.2H696.2" stroke="#edb120" stroke-width="2.7" fill="none"/>
<text y="300.8" font-size="73.4"><tspan x="705.3">Discharge </tspan><tspan x="1023.0">voltage </tspan><tspan x="1257.4">of </tspan><tspan x="1338.7" letter-spacing="-0.88">battery</tspan><tspan x="1538.0">3</tspan></text>
<path d="M560.4 359.8H696.2" stroke="#7e2f8e" stroke-width="2.7" fill="none"/>
<text y="388.3" font-size="73.4"><tspan x="705.3">Discharge </tspan><tspan x="1023.0">voltage </tspan><tspan x="1257.4">of </tspan><tspan x="1338.7" letter-spacing="-0.88">battery</tspan><tspan x="1538.0">4</tspan></text>
<text transform="translate(249.3 81.4) scale(1 1.035)" font-size="82.0" text-anchor="end" fill="#1c1c1c">700</text>
<text transform="translate(249.3 397.5) scale(1 1.035)" font-size="82.0" text-anchor="end" fill="#1c1c1c">650</text>
<text transform="translate(249.3 715.6) scale(1 1.035)" font-size="82.0" text-anchor="end" fill="#1c1c1c">600</text>
<text transform="translate(249.3 1031.4) scale(1 1.035)" font-size="82.0" text-anchor="end" fill="#1c1c1c">550</text>
<text transform="translate(249.3 1349.1) scale(1 1.035)" font-size="82.0" text-anchor="end" fill="#1c1c1c">500</text>
<text transform="translate(275.4 1420.4) scale(1 1.035)" font-size="82.0" text-anchor="middle" fill="#1c1c1c">0</text>
<text transform="translate(614.0 1420.4) scale(1 1.035)" font-size="82.0" text-anchor="middle" fill="#1c1c1c">20</text>
<text transform="translate(951.8 1420.4) scale(1 1.035)" font-size="82.0" text-anchor="middle" fill="#1c1c1c">40</text>
<text transform="translate(1289.2 1420.4) scale(1 1.035)" font-size="82.0" text-anchor="middle" fill="#1c1c1c">60</text>
<text transform="translate(1630.0 1420.4) scale(1 1.035)" font-size="82.0" text-anchor="middle" fill="#1c1c1c">80</text>
<text x="949.5" y="1525.6" font-size="91.5" text-anchor="middle" fill="#1c1c1c">t/s</text>
<text transform="translate(93.8 686.0) rotate(-90)" font-size="91.5" text-anchor="middle" fill="#1c1c1c">u/V</text>
</g>
</svg>
</body>
</html>
